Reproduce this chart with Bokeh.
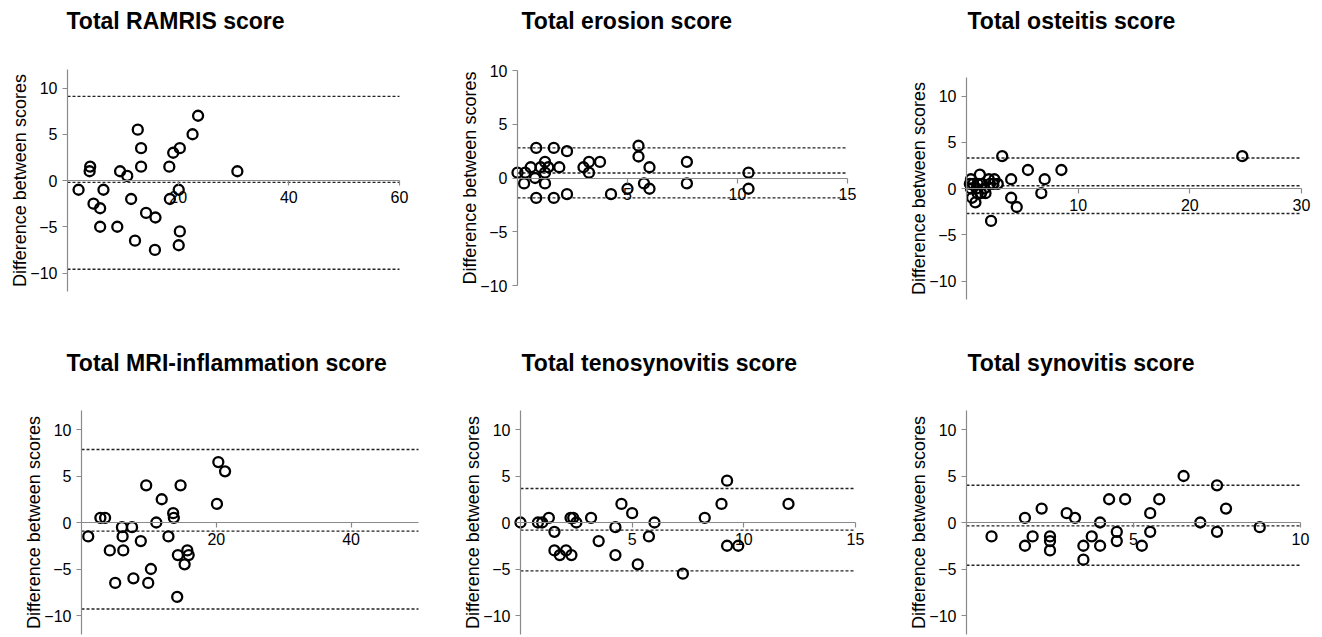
from bokeh.plotting import figure
from bokeh.layouts import row, column
from bokeh.models import FixedTicker, Range1d, Label
from bokeh.embed import file_html
from bokeh.resources import INLINE

# ---------------- data ----------------
y_ticks = [-10, -5, 0, 5, 10]
y_label = "Difference between scores"

ramris_title = "Total RAMRIS score"
ramris_avg = [2, 4, 4.1, 4.7, 5.9, 5.9, 6.5, 9, 9.5, 10.8, 11.5, 12.2, 12.7, 13.3, 13.3, 14.2,
              15.9, 15.8, 18.4, 18.5, 19.1, 20.3, 20.1, 20.3, 20.1, 22.6, 23.6, 30.7]
ramris_diff = [-1, 1, 1.5, -2.5, -3, -5, -1, -5, 1, 0.5, -2, -6.5, 5.5, 3.5, 1.5, -3.5,
               -4, -7.5, 1.5, -2, 3, 3.5, -1, -5.5, -7, 5, 7, 1]
ramris_loa = [-9.6, -0.2, 9.1]
ramris_xticks = [20, 40, 60]

erosion_title = "Total erosion score"
erosion_avg = [0, 0.3, 0.35, 0.6, 0.8, 0.85, 0.85, 1.05, 1.25, 1.25, 1.25, 1.4, 1.65, 1.65,
               1.9, 2.25, 2.25, 3, 3.25, 3.25, 3.75, 4.25, 5, 5.5, 5.5, 5.75, 6, 6, 7.7, 7.7,
               10.5, 10.5]
erosion_diff = [0.5, -0.5, 0.5, 1, 0, 2.8, -1.85, 1, 1.5, 0.5, -0.5, 1, 2.8, -1.85,
                1, 2.5, -1.5, 1, 1.5, 0.5, 1.5, -1.5, -1, 3, 2, -0.5, 1, -1, 1.5, -0.5,
                0.5, -1]
erosion_loa = [-1.85, 0.47, 2.8]
erosion_xticks = [5, 10, 15]

osteitis_title = "Total osteitis score"
osteitis_avg = [0.3, 0.4, 0.4, 0.5, 0.6, 0.8, 0.9, 1.0, 1.0, 1.2, 1.3, 1.4, 1.6, 1.7, 2.0,
                2.1, 2.2, 2.4, 2.5, 2.8, 3.2, 4.0, 4.0, 4.5, 5.5, 6.7, 7.0, 8.5, 24.7]
osteitis_diff = [0.5, 1.0, 0.0, -1.0, 0.5, -1.5, 0.0, 0.5, -0.5, 1.5, -0.5, 0.5, 0.0, -0.5,
                 1.0, 0.5, -3.5, 0.5, 1.0, 0.5, 3.5, 1.0, -1.0, -2.0, 2.0, -0.5, 1.0, 2.0, 3.5]
osteitis_loa = [-2.7, 0.3, 3.3]
osteitis_xticks = [10, 20, 30]

inflam_title = "Total MRI-inflammation score"
inflam_avg = [1, 2.8, 3.5, 4.2, 5, 6, 6.1, 6.2, 7.5, 7.7, 8.8, 9.6, 9.9, 10.3, 11.1, 11.9,
              12.9, 13.6, 13.7, 14.2, 14.3, 14.7, 15.3, 15.7, 15.9, 20.1, 20.3, 21.3]
inflam_diff = [-1.5, 0.5, 0.5, -3, -6.5, -0.5, -1.5, -3, -0.5, -6, -2, 4, -6.5, -5, 0, 2.5,
               -1.5, 1, 0.5, -8, -3.5, 4, -4.5, -3, -3.5, 2, 6.5, 5.5]
inflam_loa = [-9.3, -0.93, 7.85]
inflam_xticks = [20, 40]

teno_title = "Total tenosynovitis score"
teno_avg = [0, 0.78, 0.97, 1.27, 1.52, 1.52, 1.76, 2.04, 2.24, 2.28, 2.36, 2.5, 3.16, 3.5,
            4.25, 4.25, 4.52, 5.0, 5.25, 5.75, 6.0, 7.27, 8.25, 9.0, 9.25, 9.25, 9.75, 12.0]
teno_diff = [0, 0, 0, 0.5, -1, -3, -3.5, -3, 0.5, -3.5, 0.5, 0, 0.5, -2, -0.5, -3.5, 2, 1,
             -4.5, -1.5, 0, -5.5, 0.5, 2, 4.5, -2.5, -2.5, 2]
teno_loa = [-5.2, -0.82, 3.66]
teno_xticks = [5, 10, 15]

syno_title = "Total synovitis score"
syno_avg = [0.75, 1.75, 1.75, 1.98, 2.25, 2.5, 2.5, 2.5, 3.0, 3.25, 3.5, 3.5, 3.75, 4.0, 4.0,
            4.27, 4.5, 4.5, 4.75, 5.25, 5.5, 5.5, 5.77, 6.5, 7.0, 7.5, 7.5, 7.77, 8.78]
syno_diff = [-1.5, 0.5, -2.5, -1.5, 1.5, -1.5, -2, -3, 1, 0.5, -2.5, -4, -1.5, 0, -2.5,
             2.5, -1, -2, 2.5, -2.5, 1, -1, 2.5, 5, 0, 4, -1, 1.5, -0.5]
syno_loa = [-4.6, -0.36, 4.0]
syno_xticks = [5, 10]

# ---------------- layout / style ----------------
FONT = "Liberation Sans"
AXIS_COLOR = "#8a8a8a"


def make_panel(title, xs, ys, loa, xticks, x_end, y_lo, y_hi, g):
    # g: figure size, pixel position of the axes origin, pixel scale
    W, H = g["W"], g["H"]
    ppx = g["xlen"] / x_end              # pixels per x unit
    ppy = g["ppy"]                       # pixels per y unit
    x_range = Range1d(-g["ox"] / ppx, (W - g["ox"]) / ppx)
    y_range = Range1d(-(H - g["oy"]) / ppy, g["oy"] / ppy)
    p = figure(width=W, height=H, output_backend="svg", toolbar_location=None,
               x_range=x_range, y_range=y_range,
               min_border_left=0, min_border_right=0,
               min_border_top=0, min_border_bottom=0)
    p.outline_line_color = None
    p.xgrid.visible = False
    p.ygrid.visible = False
    p.background_fill_color = "white"
    p.border_fill_color = "white"

    for ax in (p.xaxis[0], p.yaxis[0]):
        ax.fixed_location = 0
        ax.axis_line_color = AXIS_COLOR
        ax.axis_line_width = 1.2
        ax.major_tick_line_color = AXIS_COLOR
        ax.major_tick_line_width = 1.2
        ax.major_tick_in = 0
        ax.major_tick_out = 5
        ax.minor_tick_line_color = None
        ax.major_label_text_font = FONT
        ax.major_label_text_font_size = "16px"
        ax.major_label_text_color = "black"
        ax.major_label_standoff = 5

    p.xaxis[0].ticker = FixedTicker(ticks=xticks)
    p.xaxis[0].bounds = (0, x_end)
    p.yaxis[0].ticker = FixedTicker(ticks=y_ticks)
    p.yaxis[0].bounds = (y_lo, y_hi)
    p.yaxis[0].axis_label = y_label
    p.yaxis[0].axis_label_text_font = FONT
    p.yaxis[0].axis_label_text_font_size = "18px"
    p.yaxis[0].axis_label_text_font_style = "normal"
    p.yaxis[0].axis_label_text_color = "black"
    p.yaxis[0].axis_label_standoff = -3

    p.segment(x0=[0] * len(loa), x1=[x_end] * len(loa), y0=loa, y1=loa,
              line_color="#222222", line_width=1.4, line_dash="3 2")
    p.scatter(xs, ys, marker="circle", size=10, fill_alpha=0,
              line_color="black", line_width=2.3)

    p.add_layout(Label(x=g["tx"], y=H - g["ty"], x_units="screen", y_units="screen",
                       text=title, text_font=FONT, text_font_size="23px",
                       text_font_style="bold", text_color="black",
                       text_baseline="middle", text_align="left"))
    return p


TOP_H = 341
BOT_H = 295
g1 = dict(W=440, H=TOP_H, ox=67, oy=180, xlen=332, ppy=9.25, tx=66, ty=20)
g2 = dict(W=440, H=TOP_H, ox=77, oy=177.5, xlen=330, ppy=10.75, tx=81, ty=20)
g3 = dict(W=442, H=TOP_H, ox=86, oy=188, xlen=335, ppy=9.25, tx=87, ty=20)
g4 = dict(W=440, H=BOT_H, ox=81, oy=181, xlen=337, ppy=9.3, tx=66, ty=21)
g5 = dict(W=440, H=BOT_H, ox=80, oy=181, xlen=335, ppy=9.3, tx=81, ty=21)
g6 = dict(W=442, H=BOT_H, ox=86, oy=181, xlen=334, ppy=9.3, tx=87, ty=21)

p1 = make_panel(ramris_title, ramris_avg, ramris_diff, ramris_loa, ramris_xticks, 60, -12, 12, g1)
p2 = make_panel(erosion_title, erosion_avg, erosion_diff, erosion_loa, erosion_xticks, 15, -10, 10, g2)
p3 = make_panel(osteitis_title, osteitis_avg, osteitis_diff, osteitis_loa, osteitis_xticks, 30, -12, 12, g3)
p4 = make_panel(inflam_title, inflam_avg, inflam_diff, inflam_loa, inflam_xticks, 50, -12, 12, g4)
p5 = make_panel(teno_title, teno_avg, teno_diff, teno_loa, teno_xticks, 15, -12, 12, g5)
p6 = make_panel(syno_title, syno_avg, syno_diff, syno_loa, syno_xticks, 10, -12, 12, g6)

layout = column(row(p1, p2, p3, spacing=0), row(p4, p5, p6, spacing=0), spacing=0)

open("out.html", "w").write(file_html(layout, INLINE))
